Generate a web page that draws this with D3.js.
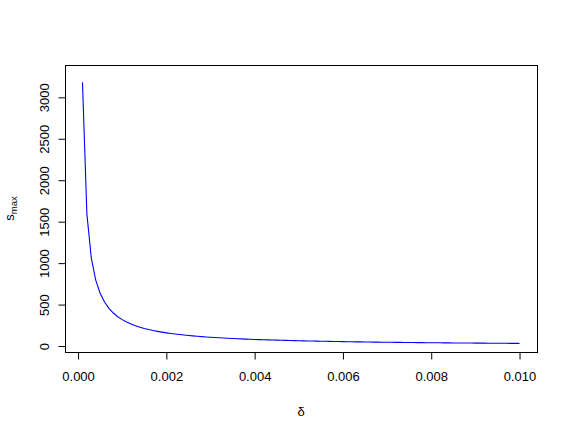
<!DOCTYPE html>
<html lang="en">
<head>
  <meta charset="UTF-8">
  <title>s_max vs delta</title>
  <script src="https://d3js.org/d3.v7.min.js"></script>
  <style>
    body { margin: 0; background: #fff; }
    svg text { font-family: "Liberation Sans", Arial, sans-serif; }
  </style>
</head>
<body>
  <div id="chart"></div>

  <script>
  // delta values (x)
  const delta = [
    0.0001, 0.0002, 0.0003, 0.0004, 0.0005, 0.0006, 0.0007, 0.0008, 0.0009, 0.0010,
    0.0011, 0.0012, 0.0013, 0.0014, 0.0015, 0.0016, 0.0017, 0.0018, 0.0019, 0.0020,
    0.0021, 0.0022, 0.0023, 0.0024, 0.0025, 0.0026, 0.0027, 0.0028, 0.0029, 0.0030,
    0.0031, 0.0032, 0.0033, 0.0034, 0.0035, 0.0036, 0.0037, 0.0038, 0.0039, 0.0040,
    0.0041, 0.0042, 0.0043, 0.0044, 0.0045, 0.0046, 0.0047, 0.0048, 0.0049, 0.0050,
    0.0051, 0.0052, 0.0053, 0.0054, 0.0055, 0.0056, 0.0057, 0.0058, 0.0059, 0.0060,
    0.0061, 0.0062, 0.0063, 0.0064, 0.0065, 0.0066, 0.0067, 0.0068, 0.0069, 0.0070,
    0.0071, 0.0072, 0.0073, 0.0074, 0.0075, 0.0076, 0.0077, 0.0078, 0.0079, 0.0080,
    0.0081, 0.0082, 0.0083, 0.0084, 0.0085, 0.0086, 0.0087, 0.0088, 0.0089, 0.0090,
    0.0091, 0.0092, 0.0093, 0.0094, 0.0095, 0.0096, 0.0097, 0.0098, 0.0099, 0.0100
  ];

  // s_max values (y)
  const smax = [
    3183.1, 1591.5, 1061.0, 795.8, 636.6, 530.5, 454.7, 397.9, 353.7, 318.3,
    289.4, 265.3, 244.9, 227.4, 212.2, 198.9, 187.2, 176.8, 167.5, 159.2,
    151.6, 144.7, 138.4, 132.6, 127.3, 122.4, 117.9, 113.7, 109.8, 106.1,
    102.7, 99.5, 96.5, 93.6, 90.9, 88.4, 86.0, 83.8, 81.6, 79.6,
    77.6, 75.8, 74.0, 72.3, 70.7, 69.2, 67.7, 66.3, 65.0, 63.7,
    62.4, 61.2, 60.1, 58.9, 57.9, 56.8, 55.8, 54.9, 54.0, 53.1,
    52.2, 51.3, 50.5, 49.7, 49.0, 48.2, 47.5, 46.8, 46.1, 45.5,
    44.8, 44.2, 43.6, 43.0, 42.4, 41.9, 41.3, 40.8, 40.3, 39.8,
    39.3, 38.8, 38.4, 37.9, 37.4, 37.0, 36.6, 36.2, 35.8, 35.4,
    35.0, 34.6, 34.2, 33.9, 33.5, 33.2, 32.8, 32.5, 32.2, 31.8
  ];

  const xTicks = [0, 0.002, 0.004, 0.006, 0.008, 0.010];
  const yTicks = [0, 500, 1000, 1500, 2000, 2500, 3000];
  // visible y range of the plot box
  const yLim = [-72, 3390];

  const width = 570, height = 434;
  const margin = { top: 65, right: 33, bottom: 82, left: 65 };

  // R style 4% padding on each side
  function padded(ext) {
    const p = (ext[1] - ext[0]) * 0.04;
    return [ext[0] - p, ext[1] + p];
  }

  const x = d3.scaleLinear()
    .domain(padded(d3.extent(delta)))
    .range([margin.left, width - margin.right]);
  const y = d3.scaleLinear()
    .domain(yLim)
    .range([height - margin.bottom, margin.top]);

  const svg = d3.select("#chart").append("svg")
    .attr("width", width).attr("height", height);

  // plot box
  svg.append("rect")
    .attr("x", margin.left + 0.5).attr("y", margin.top + 0.5)
    .attr("width", width - margin.left - margin.right)
    .attr("height", height - margin.top - margin.bottom)
    .attr("fill", "none").attr("stroke", "#000");

  // x axis
  const xAxis = svg.append("g")
    .attr("transform", `translate(0,${height - margin.bottom + 0.5})`)
    .call(d3.axisBottom(x).tickValues(xTicks).tickFormat(d3.format(".3f")).tickSizeOuter(0).tickSize(7).tickPadding(12));
  xAxis.select(".domain")
    .attr("d", `M${x(xTicks[0])},0H${x(xTicks[xTicks.length - 1])}`);
  xAxis.selectAll("text").attr("font-size", 13).attr("fill", "#000");

  // y axis, labels rotated like R
  const yAxis = svg.append("g")
    .attr("transform", `translate(${margin.left + 0.5},0)`)
    .call(d3.axisLeft(y).tickValues(yTicks).tickFormat(d3.format("d")).tickSizeOuter(0).tickSize(7));
  yAxis.select(".domain")
    .attr("d", `M0,${y(yTicks[0])}V${y(yTicks[yTicks.length - 1])}`);
  yAxis.selectAll("text")
    .attr("font-size", 13).attr("fill", "#000")
    .attr("x", null).attr("dy", null)
    .attr("text-anchor", "middle")
    .attr("transform", "translate(-17,0) rotate(-90)");

  // line
  const line = d3.line()
    .x((d, i) => x(delta[i]))
    .y(d => y(d));
  svg.append("path")
    .datum(smax)
    .attr("d", line)
    .attr("fill", "none")
    .attr("stroke", "#0000ff")
    .attr("stroke-width", 1.1);

  // axis titles
  svg.append("text")
    .attr("x", (margin.left + width - margin.right) / 2)
    .attr("y", 416)
    .attr("text-anchor", "middle")
    .attr("font-size", 13)
    .text("δ");

  const yl = svg.append("text")
    .attr("transform", `translate(13.5,${(margin.top + height - margin.bottom) / 2}) rotate(-90)`)
    .attr("text-anchor", "middle")
    .attr("font-size", 13);
  yl.append("tspan").text("s");
  yl.append("tspan").attr("font-size", 9.5).attr("dy", 3.5).text("max");
  </script>
</body>
</html>
